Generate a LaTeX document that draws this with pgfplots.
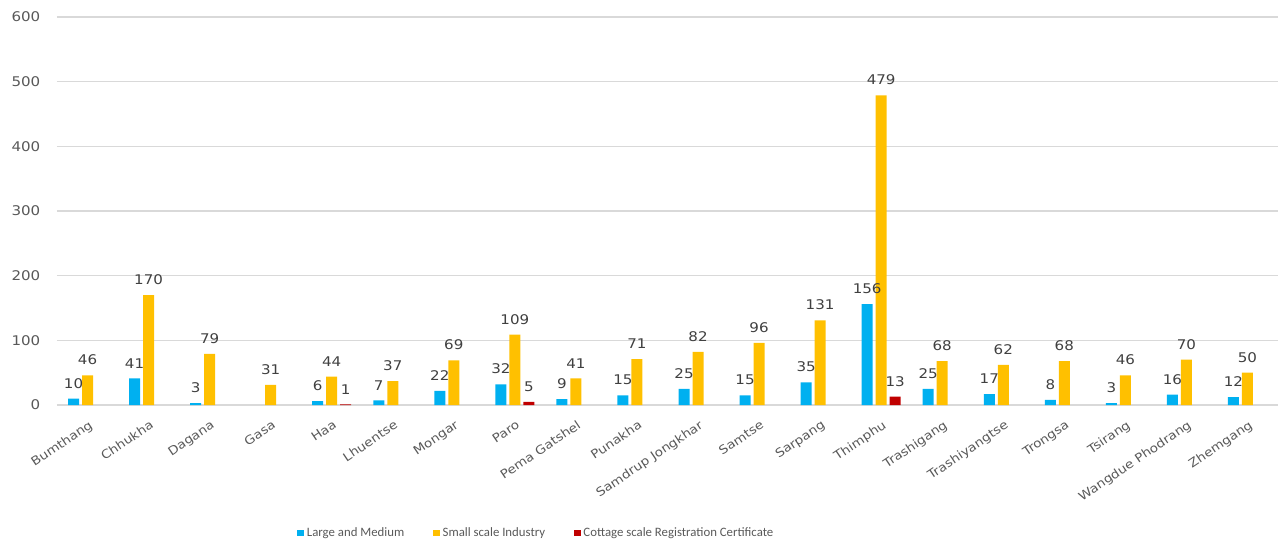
\documentclass[border=0pt]{standalone}
\usepackage{pgfplots}
\pgfplotsset{compat=1.18}
\usepackage{fontspec}
\setmainfont[FakeStretch=1.13]{DejaVu Sans}
\newfontfamily\legfont{Carlito}
\definecolor{cblue}{HTML}{00B0F0}
\definecolor{cyellow}{HTML}{FFC000}
\definecolor{cred}{HTML}{C00000}
\definecolor{gridc}{HTML}{D9D9D9}
\definecolor{tickc}{HTML}{595959}
\definecolor{labc}{HTML}{404040}
\begin{document}
\begin{tikzpicture}
\useasboundingbox (-42.75pt,-101.25pt) rectangle (916.5pt,303.75pt);
\begin{axis}[
  at={(0,0)}, anchor=south west,
  scale only axis, width=915.75pt, height=291pt,
  ybar, bar width=8.25pt,
  xmin=-0.5, xmax=19.5, ymin=0, ymax=600,
  enlarge y limits=false, enlarge x limits=false,
  ytick={0,100,...,600},
  xtick={0,...,19},
  xticklabels={Bumthang,Chhukha,Dagana,Gasa,Haa,Lhuentse,Mongar,Paro,Pema Gatshel,Punakha,Samdrup Jongkhar,Samtse,Sarpang,Thimphu,Trashigang,Trashiyangtse,Trongsa,Tsirang,Wangdue Phodrang,Zhemgang},
  ymajorgrids, grid style={gridc, line width=0.8pt},
  axis line style={draw=none},
  tick style={draw=none},
  /pgf/number format/assume math mode=true,
  tick label style={font=\fontsize{10}{12}\selectfont, text=tickc},
  yticklabel style={xshift=-9pt},
  xticklabel style={font=\fontsize{9}{10}\selectfont, anchor=north east, inner sep=0pt, xshift=0.5pt, yshift=-6.5pt, rotate=34},
  nodes near coords,
  every node near coord/.append style={font=\fontsize{10}{12}\selectfont, text=labc, inner sep=0pt, anchor=south, yshift=7.5pt},
  legend style={at={(180pt,-96pt)}, anchor=west, draw=none, fill=none,
    legend columns=3, font=\legfont\fontsize{9.6}{12}\selectfont, text=tickc,
    /tikz/every even column/.append style={column sep=19.5pt},
    inner sep=0pt},
  legend image code/.code={\fill[#1] (0pt,-2.6pt) rectangle (5.25pt,2.6pt);},
]
\addplot[fill=cblue, draw=none, bar shift=-10.5pt] coordinates {
(0,10) (1,41) (2,3) (4,6) (5,7) (6,22) (7,32) (8,9) (9,15) (10,25)
(11,15) (12,35) (13,156) (14,25) (15,17) (16,8) (17,3) (18,16) (19,12)};
\addlegendentry{Large and Medium}
\addplot[fill=cyellow, draw=none, bar shift=0pt] coordinates {
(0,46) (1,170) (2,79) (3,31) (4,44) (5,37) (6,69) (7,109) (8,41) (9,71) (10,82)
(11,96) (12,131) (13,479) (14,68) (15,62) (16,68) (17,46) (18,70) (19,50)};
\addlegendentry{Small scale Industry}
\addplot[fill=cred, draw=none, bar shift=10.5pt] coordinates {
(4,1) (7,5) (13,13)};
\addlegendentry{Cottage scale Registration Certificate}
\end{axis}
\end{tikzpicture}
\end{document}
